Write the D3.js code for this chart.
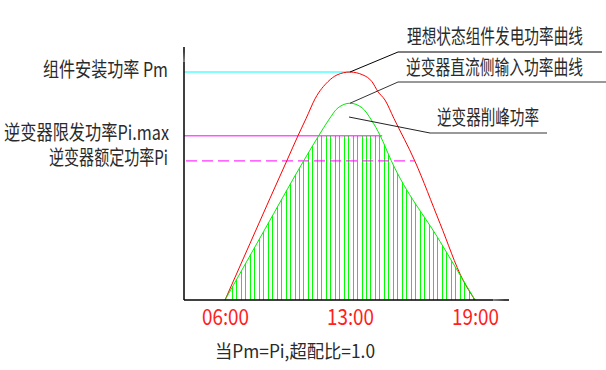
<!DOCTYPE html>
<html>
<head>
<meta charset="utf-8">
<script src="https://cdn.jsdelivr.net/npm/d3@7"></script>
<style>
  html, body { margin: 0; padding: 0; background: #fff; }
  svg { display: block; }
  text { font-family: "Noto Sans CJK SC", "Noto Sans", sans-serif; fill: #2a2a2a; }
</style>
</head>
<body>
<svg id="chart"></svg>
<script>
// time axis (hours) and labels
var hours = [6, 13, 19];
var tickLabels = ["06:00", "13:00", "19:00"];

// ideal module output (red), power per unit of Pm
var redHours = [6, 7.4, 8.52, 9.47, 10.09, 10.54, 11.06, 11.77, 12.27, 13, 13.62, 14.06, 14.34, 14.68, 15.11, 16.11, 17.32, 18.42, 19];
var redPower = [0, 0.248, 0.446, 0.612, 0.721, 0.796, 0.885, 0.958, 0.987, 1, 0.987, 0.957, 0.914, 0.877, 0.796, 0.61, 0.336, 0.088, 0];

// inverter DC input (green)
var greenHours = [6, 8.16, 10.41, 11.25, 11.8, 12.33, 13, 13.58, 14.03, 14.45, 14.98, 17.32, 19];
var greenPower = [0, 0.3, 0.611, 0.721, 0.789, 0.843, 0.863, 0.843, 0.789, 0.721, 0.611, 0.257, 0];

// levels
var pm = 1, piMax = 0.72, pi = 0.61;
var piMaxEnd = 14.45, piEnd = 16.11;

var svgWidth = 606, svgHeight = 370;
var svg = d3.select("#chart")
    .attr("width", svgWidth)
    .attr("height", svgHeight);

var xScale = d3.scaleLinear()
    .domain(hours)
    .range([225, 350, 475]);

var yScale = d3.scaleLinear()
    .domain([0, 1])
    .range([300, 72]);

var axisX = 184, axisTop = 47, axisRight = 509;

var red = redHours.map((h, i) => ({ h: h, p: redPower[i] }));
var green = greenHours.map((h, i) => ({ h: h, p: greenPower[i] }));

var line = d3.line()
    .x(d => xScale(d.h))
    .y(d => yScale(d.p))
    .curve(d3.curveMonotoneX);

var area = d3.area()
    .x(d => xScale(d.h))
    .y0(yScale(0))
    .y1(d => yScale(d.p))
    .curve(d3.curveMonotoneX);

var defs = svg.append("defs");
defs.append("clipPath")
    .attr("id", "clipCut")
    .append("rect")
    .attr("x", 0)
    .attr("y", yScale(piMax))
    .attr("width", svgWidth)
    .attr("height", yScale(0) - yScale(piMax));
defs.append("clipPath")
    .attr("id", "clipArea")
    .append("path")
    .datum(green)
    .attr("d", area);

// hatching under the green curve, cut at Pi.max
var hatchStep = 4.466;
var hatchX = d3.range(232, xScale(19), hatchStep);
svg.append("g")
    .attr("clip-path", "url(#clipCut)")
    .append("g")
    .attr("clip-path", "url(#clipArea)")
    .selectAll("line")
    .data(hatchX)
    .join("line")
    .attr("x1", d => Math.round(d) + 0.5)
    .attr("x2", d => Math.round(d) + 0.5)
    .attr("y1", yScale(0))
    .attr("y2", yScale(piMax))
    .attr("stroke", "#00ff00")
    .attr("stroke-width", 1)
    .attr("shape-rendering", "crispEdges");

// level lines
svg.append("line")
    .attr("x1", axisX).attr("x2", xScale(13))
    .attr("y1", yScale(pm)).attr("y2", yScale(pm))
    .attr("stroke", "#00ffff").attr("stroke-width", 1);

svg.append("line")
    .attr("x1", axisX).attr("x2", xScale(piMaxEnd) + 2)
    .attr("y1", yScale(piMax)).attr("y2", yScale(piMax))
    .attr("stroke", "#ff00ff").attr("stroke-width", 1);

svg.append("line")
    .attr("x1", axisX).attr("x2", xScale(piEnd))
    .attr("y1", yScale(pi)).attr("y2", yScale(pi))
    .attr("stroke", "#ff00ff").attr("stroke-width", 1)
    .attr("stroke-dasharray", "11,5")
    .attr("stroke-dashoffset", -2);

// curves
svg.append("path")
    .datum(red)
    .attr("fill", "none")
    .attr("stroke", "#ff0000")
    .attr("stroke-width", 1)
    .attr("d", line);

svg.append("path")
    .datum(green)
    .attr("fill", "none")
    .attr("stroke", "#00ee00")
    .attr("stroke-width", 1)
    .attr("d", line);

// axes
svg.append("line")
    .attr("x1", axisX).attr("x2", axisX)
    .attr("y1", axisTop).attr("y2", yScale(0))
    .attr("stroke", "#000").attr("stroke-width", 1.5);

svg.append("line")
    .attr("x1", axisX).attr("x2", axisRight)
    .attr("y1", yScale(0)).attr("y2", yScale(0))
    .attr("stroke", "#000").attr("stroke-width", 1.5);

// tiny arrowheads
svg.append("path")
    .attr("d", "M183,62L184,52L185,62Z")
    .attr("fill", "#888");
svg.append("path")
    .attr("d", "M493,299L505,300L493,301Z")
    .attr("fill", "#888");

var gx = svg.append("g")
    .attr("transform", "translate(0," + yScale(0) + ")")
    .call(d3.axisBottom(xScale)
        .tickValues(hours)
        .tickSize(0)
        .tickFormat((d, i) => tickLabels[i]));
gx.select(".domain").remove();
gx.selectAll("text")
    .attr("y", 25)
    .attr("dy", 0)
    .attr("font-size", 22)
    .attr("textLength", 47)
    .attr("lengthAdjust", "spacingAndGlyphs")
    .style("fill", "#ff2020")
    .style("font-family", "'Noto Sans CJK SC', sans-serif");

// leader lines
svg.append("polyline")
    .attr("points", [[xScale(13), yScale(pm)], [398, 52], [602, 52]].join(" "))
    .attr("fill", "none").attr("stroke", "#000").attr("stroke-width", 1);
svg.append("polyline")
    .attr("points", [[xScale(13), yScale(0.863)], [398, 82], [606, 82]].join(" "))
    .attr("fill", "none").attr("stroke", "#333").attr("stroke-width", 1);
svg.append("line")
    .attr("x1", 349).attr("y1", 117).attr("x2", 430).attr("y2", 133)
    .attr("stroke", "#222").attr("stroke-width", 1);
svg.append("line")
    .attr("x1", 430).attr("y1", 133).attr("x2", 547).attr("y2", 133)
    .attr("stroke", "#999").attr("stroke-width", 2);

// texts
function label(txt, x, y, len, size) {
    svg.append("text")
        .attr("x", x)
        .attr("y", y)
        .attr("font-size", size || 20)
        .attr("textLength", len)
        .attr("lengthAdjust", "spacingAndGlyphs")
        .attr("xml:space", "preserve")
        .text(txt);
}
label("组件安装功率 Pm", 43, yScale(pm) + 4.5, 125);
label("逆变器限发功率Pi.max", 4, yScale(piMax) + 4, 165);
label("逆变器额定功率Pi", 49, yScale(pi) + 4.5, 119);
label("理想状态组件发电功率曲线", 407, 43.5, 176);
label("逆变器直流侧输入功率曲线", 406, 75, 177);
label("逆变器削峰功率", 437, 125, 102);
label("当Pm=Pi,超配比=1.0", 215, 358, 160, 18);
</script>
</body>
</html>
